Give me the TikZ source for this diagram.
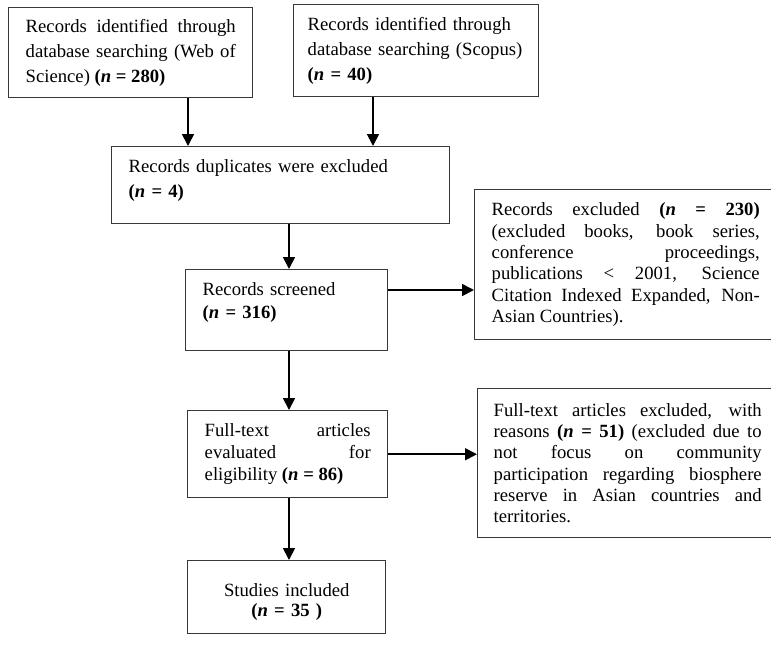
\documentclass[tikz,border=0pt]{standalone}
\usepackage{fontspec}
\setmainfont{Liberation Serif}
\usetikzlibrary{arrows.meta}
\newcommand{\nval}[1]{\textbf{(\textit{n} = #1)}}
\tikzset{
  recbox/.style={draw=black!78, line width=1.1pt, anchor=north west, inner ysep=0pt, inner xsep=12.75pt},
  flow/.style={line width=1.3pt, -{Triangle[length=9pt,width=9pt]}},
  lead/.style={font=\fontsize{14}{#1}\selectfont}
}
\begin{document}
\tolerance=10000 \hyphenpenalty=10000
\begin{tikzpicture}[x=0.75pt, y=-0.75pt]
\useasboundingbox (0,0) rectangle (771,644);
\clip (0,0) rectangle (771,644);
% identification
\node[recbox, lead=18.75, minimum width=183pt, minimum height=67.5pt, text width=157.5pt, align=justify] (wos) at (8,7)
  {Records identified through\linebreak database searching (Web of\linebreak Science) \nval{280}};
\node[recbox, lead=18.75, inner xsep=10.5pt, minimum width=183.75pt, minimum height=69pt, text width=162.75pt, align=left] (sco) at (293,4)
  {Records identified through\\ database searching (Scopus)\\ \nval{40}};
\node[recbox, lead=18.75, minimum width=253.5pt, minimum height=57.75pt, text width=228pt, align=left] (dup) at (111,146)
  {Records duplicates were excluded\\ \nval{4}\\[-8pt] \mbox{}};
% screening
\node[recbox, lead=17.25, minimum width=151.5pt, minimum height=60.75pt, text width=126pt, align=left] (scr) at (185,269)
  {Records screened\\ \nval{316}\\[-3pt] \mbox{}};
\node[recbox, lead=16, minimum width=226.5pt, minimum height=112.5pt, text width=201pt, align=justify] (exc) at (474,189)
  {Records excluded \nval{230}\linebreak (excluded books, book series,\linebreak conference proceedings,\linebreak publications < 2001, Science\linebreak Citation Indexed Expanded, Non-\linebreak Asian Countries).};
% eligibility
\node[recbox, lead=16.5, minimum width=150pt, minimum height=65.25pt, text width=124.5pt, align=justify] (full) at (187,410)
  {Full-text articles\linebreak evaluated for\linebreak eligibility \nval{86}};
\node[recbox, lead=16, inner xsep=12pt, minimum width=225pt, minimum height=111.75pt, text width=201pt, align=justify] (fexc) at (477,388)
  {Full-text articles excluded, with\linebreak reasons \nval{51} (excluded due to\linebreak not focus on community\linebreak participation regarding biosphere\linebreak reserve in Asian countries and\linebreak territories.};
% included
\node[recbox, lead=15, minimum width=148.5pt, minimum height=54.75pt, text width=123pt, align=center] (inc) at (187,560)
  {\rule{0pt}{17.5pt}Studies included\\ \textbf{(\textit{n} = 35 )}};
% connectors
\coordinate (colA) at (188,0);
\coordinate (colB) at (373,0);
\coordinate (colM) at (289,0);
\coordinate (rowS) at (0,290);
\draw[flow] (colA |- wos.south) -- (colA |- dup.north);
\draw[flow] (colB |- sco.south) -- (colB |- dup.north);
\draw[flow] (colM |- dup.south) -- (colM |- scr.north);
\draw[flow] (rowS -| scr.east) -- (rowS -| exc.west);
\draw[flow] (colM |- scr.south) -- (colM |- full.north);
\draw[flow] (full.east) -- (full.east -| fexc.west);
\draw[flow] (colM |- full.south) -- (colM |- inc.north);
\end{tikzpicture}
\end{document}
